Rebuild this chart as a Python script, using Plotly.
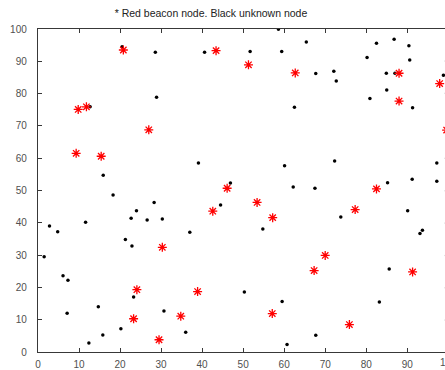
import plotly.graph_objects as go

# Unknown nodes (black)
unknown_x = [58.6, 20.5, 28.6, 40.6, 51.7, 59.4, 65.4, 82.5, 86.8, 90.4, 80.2, 90.6, 28.9, 12.7,
             67.7, 72.1, 72.7, 84.9, 87.0, 85.0, 80.9, 62.5, 91.3, 98.8, 99.6, 99.6,
             15.9, 18.3, 24.0, 22.7, 26.6, 11.6, 2.8, 4.8, 21.3, 22.9, 39.1, 60.1, 46.9,
             44.5, 28.3, 30.3, 37.0, 54.8, 72.3, 97.2, 99.6, 97.2, 99.6, 62.2, 67.5, 85.2,
             91.2, 73.8, 90.1, 93.7, 93.1, 99.6, 1.5, 6.1, 7.3, 7.1, 14.7, 15.8, 12.4, 20.2,
             23.3, 50.3, 59.5, 30.7, 36.0, 60.7, 85.6, 83.2, 67.7, 99.6, 99.6, 99.6]
unknown_y = [99.9, 94.5, 92.8, 92.8, 93.0, 93.0, 96.0, 95.6, 96.8, 94.8, 91.2, 90.4, 78.9, 75.9,
             86.2, 86.9, 83.9, 86.3, 86.3, 81.1, 78.5, 75.8, 75.6, 85.7, 90.1, 80.1,
             54.7, 48.6, 43.7, 41.4, 40.9, 40.2, 39.0, 37.2, 34.8, 32.8, 58.5, 57.7, 52.3,
             45.5, 46.3, 41.2, 37.1, 38.1, 59.1, 58.5, 60.0, 52.9, 49.9, 51.1, 50.7, 52.4,
             53.5, 41.8, 43.7, 37.7, 36.7, 39.9, 29.5, 23.6, 22.2, 12.0, 14.0, 5.3, 2.8, 7.2,
             17.0, 18.6, 15.6, 12.7, 6.1, 2.3, 25.7, 15.5, 5.2, 29.9, 19.9, 9.9]

# Beacon nodes (red)
beacon_x = [20.8, 43.4, 51.3, 27.0, 9.8, 11.8, 62.7, 88.0, 88.0, 97.9, 99.6, 9.3, 15.4, 46.1,
            53.4, 42.6, 57.2, 30.3, 82.5, 77.3, 24.1, 23.3, 38.9, 34.8, 29.5, 57.1, 70.0,
            67.3, 91.3, 75.9]
beacon_y = [93.5, 93.3, 88.9, 68.8, 75.1, 75.9, 86.4, 86.3, 77.7, 83.1, 68.7, 61.5, 60.6, 50.7,
            46.3, 43.6, 41.6, 32.4, 50.5, 44.1, 19.3, 10.3, 18.7, 11.1, 3.8, 11.9, 29.9,
            25.2, 24.8, 8.5]

tick_vals = [0, 10, 20, 30, 40, 50, 60, 70, 80, 90, 100]
title_text = "* Red beacon node. Black unknown node"

font_family = "Liberation Sans, Arial, sans-serif"
text_col = "#505050"
line_col = "#383838"

fig = go.Figure()
fig.add_trace(go.Scatter(x=unknown_x, y=unknown_y, mode="markers",
                         marker=dict(symbol="circle", size=3.5, color="black", line=dict(width=0)),
                         cliponaxis=True, showlegend=False))
fig.add_trace(go.Scatter(x=beacon_x, y=beacon_y, mode="markers",
                         marker=dict(symbol="asterisk-open", size=7.5, color="red",
                                     line=dict(width=1.3, color="red")),
                         cliponaxis=True, showlegend=False))

fig.update_layout(
    width=445, height=370,
    margin=dict(l=38, r=0, t=29, b=18, pad=0),
    paper_bgcolor="white", plot_bgcolor="white",
    font=dict(family=font_family, size=10, color=text_col),
    title=dict(text=title_text, x=0.425, xref="paper", xanchor="center",
               y=1 - 13 / 370, yref="container", yanchor="middle",
               font=dict(family=font_family, size=10.5, color="#222")),
    xaxis=dict(range=[0, 99.2], tickvals=tick_vals, showgrid=False, zeroline=False,
               showline=True, linecolor=line_col, linewidth=1.4, mirror="ticks",
               ticks="inside", ticklen=4, tickcolor=line_col, tickwidth=1,
               ticklabelstandoff=3),
    yaxis=dict(range=[0, 100], tickvals=tick_vals, showgrid=False, zeroline=False,
               showline=True, linecolor=line_col, linewidth=1.4, mirror=False,
               ticks="inside", ticklen=4, tickcolor=line_col, tickwidth=1,
               ticklabelstandoff=8),
)

# last x tick label lies just past the clipped right edge
fig.add_annotation(text=str(tick_vals[-1]), xref="paper", yref="paper",
                   x=(100 - 0) / 99.2, y=0, xanchor="center", yanchor="top",
                   yshift=-3, showarrow=False,
                   font=dict(family=font_family, size=10, color=text_col))

fig.write_html("out.html")
